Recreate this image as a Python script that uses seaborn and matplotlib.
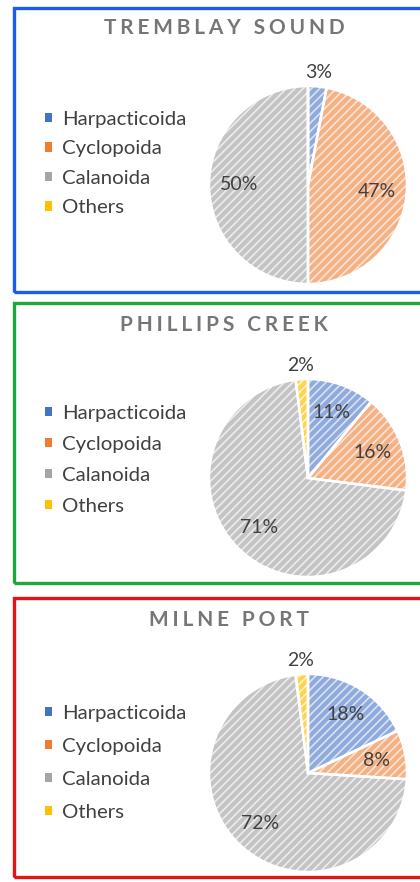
import numpy as np
import matplotlib.pyplot as plt
import matplotlib.patches as patches
import seaborn as sns

# -------------------------------------------------------
# data: share of each copepod order per site (%)
orders = ['Harpacticoida', 'Cyclopoida', 'Calanoida', 'Others']
sites = ['TREMBLAY SOUND', 'PHILLIPS CREEK', 'MILNE PORT']
tremblay = [3, 47, 50, 0]
phillips = [11, 16, 71, 2]
milne = [18, 8, 72, 2]

sns.set_theme(style='white')
plt.rcParams['font.family'] = ['Lato', 'DejaVu Sans']
plt.rcParams['hatch.linewidth'] = 1.2

colors = sns.color_palette(['#4472C4', '#ED7D31', '#A5A5A5', '#FFC000'])
# striped fill: darker stripe on a lighter tint (Excel pattern fill look)
stripe_dark = ['#8FAADC', '#F4B183', '#C4C4C4', '#FFD34D']
stripe_light = ['#DAE3F3', '#FCE4D6', '#EDEDED', '#FFF2CC']
border_colors = ['#1a5cf0', '#1fa83a', '#e31414']
text_grey = '#404040'

fig = plt.figure(figsize=(4.2, 8.82), dpi=100)
W, H = 420, 882


def fig_box(x0, y0, w, h):
    # pixel box (top-left origin) -> figure fraction
    return [x0 / W, 1 - (y0 + h) / H, w / W, h / H]


# panel layout in pixels: border top/bottom, pie centre y, title x/y, legend top y, row spacing
panels = [
    dict(vals=tremblay, top=8, bottom=292, cy=185, tx=224, ty=28, ly=111, ls=0.61),
    dict(vals=phillips, top=303, bottom=583, cy=478, tx=224, ty=325, ly=405, ls=0.68),
    dict(vals=milne, top=598, bottom=877, cy=773, tx=229, ty=620, ly=705, ls=0.78),
]

for site, p, bc in zip(sites, panels, border_colors):
    # coloured frame round each panel
    fig.patches.append(patches.Rectangle((14 / W, 1 - p['bottom'] / H), 420 / W, (p['bottom'] - p['top']) / H,
                                         transform=fig.transFigure, fill=False, edgecolor=bc, linewidth=2.4))

    # title with widened letter spacing
    fig.text(p['tx'] / W, 1 - p['ty'] / H, '\u2009\u200a'.join(site), ha='center', va='center',
             fontsize=15, fontweight='bold', color='#767676')

    r = 99
    ax = fig.add_axes(fig_box(308 - r, p['cy'] - r, 2 * r, 2 * r))
    wedges, _ = ax.pie(p['vals'], colors=stripe_dark, startangle=90, counterclock=False,
                       wedgeprops=dict(linewidth=0, hatch='////'))
    for w, lc in zip(wedges, stripe_light):
        w.set_edgecolor(lc)
        w.set_linewidth(0)
    # white separators between slices
    ax.pie(p['vals'], startangle=90, counterclock=False,
           wedgeprops=dict(fill=False, edgecolor='white', linewidth=1.8))
    ax.set_xlim(-1, 1)
    ax.set_ylim(-1, 1)
    ax.set_aspect('equal')
    ax.axis('off')

    # percentage labels, small slices outside
    for w, v in zip(wedges, p['vals']):
        if v == 0:
            continue
        ang = np.radians((w.theta1 + w.theta2) / 2)
        dist = 1.14 if v < 5 else 0.7
        ax.text(dist * np.cos(ang), dist * np.sin(ang), f'{v}%',
                ha='center', va='center', fontsize=14, color=text_grey, clip_on=False)

    handles = [patches.Patch(facecolor=c, edgecolor='none') for c in colors]
    fig.legend(handles, orders, loc='upper left', bbox_to_anchor=(45 / W, 1 - p['ly'] / H),
               bbox_transform=fig.transFigure, frameon=False, fontsize=14.7, labelcolor=text_grey,
               handlelength=0.35, handleheight=0.35, handletextpad=0.5, labelspacing=p['ls'],
               borderpad=0, borderaxespad=0)

plt.savefig('out.png', dpi=100, facecolor='white')
